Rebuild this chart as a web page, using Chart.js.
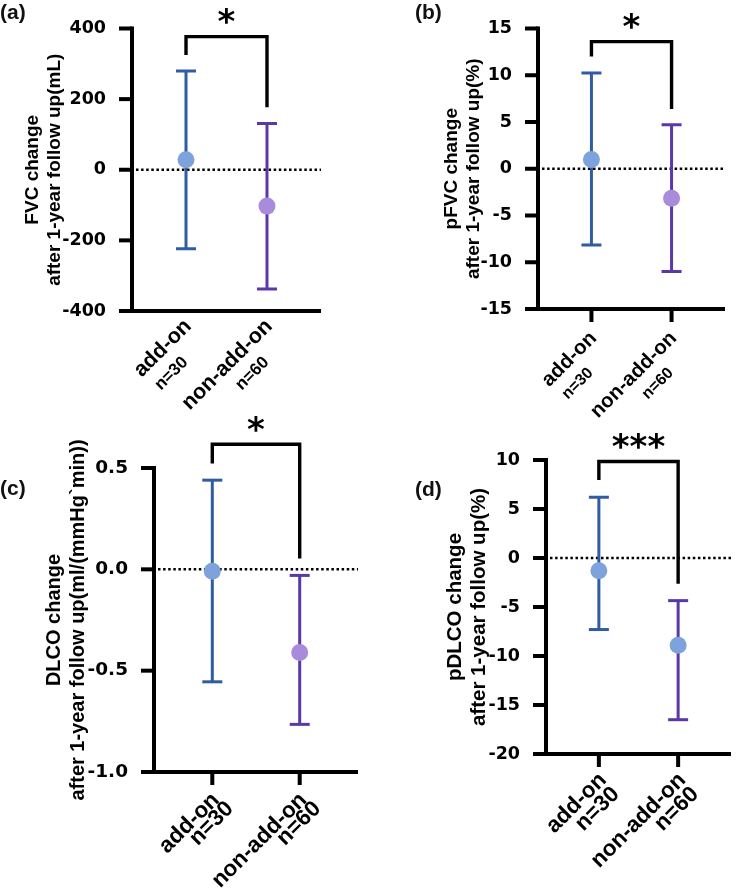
<!DOCTYPE html>
<html><head><meta charset="utf-8">
<script src="https://cdn.jsdelivr.net/npm/chart.js@4.4.1/dist/chart.umd.min.js"></script>
<style>
html,body{margin:0;padding:0;background:#fff;}
#wrap{position:relative;width:744px;height:896px;overflow:hidden;background:#fff;}
canvas{position:absolute;left:0;top:0;}
.lbl{position:absolute;font-family:"Liberation Sans",Arial,sans-serif;font-weight:bold;font-size:21px;line-height:24px;color:#111;}
</style></head><body>
<div id="wrap">
<canvas id="ca" width="744" height="896"></canvas>
<canvas id="cb" width="744" height="896"></canvas>
<canvas id="cc" width="744" height="896"></canvas>
<canvas id="cd" width="744" height="896"></canvas>
<div class="lbl" style="left:0px;top:0px">(a)</div>
<div class="lbl" style="left:415px;top:0px">(b)</div>
<div class="lbl" style="left:0px;top:476px">(c)</div>
<div class="lbl" style="left:415px;top:477px">(d)</div>
</div>
<script>
// ---- data ----
const categories = ['add-on', 'non-add-on'];
const groupSizes = ['n=30', 'n=60'];

const fvcMean  = [28, -103];
const fvcUpper = [280, 131];
const fvcLower = [-224, -338];
const fvcBracket = [325, 377, 177];      // left leg end, top, right leg end
const fvcTicks = [-400, 400, 200];       // min, max, step
const fvcTitle = ['FVC change', 'after 1-year follow up(mL)'];

const pfvcMean  = [1.0, -3.15];
const pfvcUpper = [10.25, 4.7];
const pfvcLower = [-8.15, -11.0];
const pfvcBracket = [12.0, 13.6, 6.4];
const pfvcTicks = [-15, 15, 5];
const pfvcTitle = ['pFVC change', 'after 1-year follow up(%)'];

const dlcoMean  = [-0.01, -0.41];
const dlcoUpper = [0.44, -0.03];
const dlcoLower = [-0.555, -0.765];
const dlcoBracket = [0.522, 0.617, 0.054];
const dlcoTicks = [-1.0, 0.5, 0.5];
const dlcoTitle = ['DLCO change', 'after 1-year follow up(ml/(mmHg`min))'];

const pdlcoMean  = [-1.3, -8.9];
const pdlcoUpper = [6.2, -4.35];
const pdlcoLower = [-7.3, -16.5];
const pdlcoBracket = [7.97, 9.84, -2.62];
const pdlcoTicks = [-20, 10, 5];
const pdlcoTitle = ['pDLCO change', 'after 1-year follow up(%)'];

const sigLabels = ['*', '*', '*', '***'];

// ---- styles ----
const BAR_BLUE = '#2f5ca3';
const BAR_PURPLE = '#5a38a8';
const DOT_BLUE = '#7ea2dc';
const DOT_LAV = '#a98bdb';
const SANS = '"Liberation Sans", Arial, sans-serif';
const TICKFONT = '"DejaVu Sans", sans-serif';
const AXIS_W = 4;

const zeroLine = {
  id: 'zeroLine',
  beforeDatasetsDraw(chart) {
    const y = chart.scales.y.getPixelForValue(0);
    const a = chart.chartArea, ctx = chart.ctx;
    ctx.save();
    ctx.strokeStyle = '#000';
    ctx.lineWidth = 2.5;
    ctx.setLineDash([2.5, 2.6]);
    ctx.beginPath();
    ctx.moveTo(a.left + 4, y);
    ctx.lineTo(a.right, y);
    ctx.stroke();
    ctx.restore();
  }
};

const sigStar = {
  id: 'sigStar',
  afterDatasetsDraw(chart) {
    const o = chart.options.plugins.sigStar;
    const xs = chart.scales.x, ys = chart.scales.y, ctx = chart.ctx;
    const x = (xs.getPixelForValue(0) + xs.getPixelForValue(1)) / 2;
    const y = ys.getPixelForValue(o.top) - 21;
    ctx.save();
    ctx.fillStyle = '#000';
    ctx.font = 'bold 34px "DejaVu Sans", sans-serif';
    ctx.textAlign = 'center';
    ctx.textBaseline = 'alphabetic';
    ctx.fillText(o.text, x, y + 17.5);
    ctx.restore();
  }
};

const xLabels = {
  id: 'xLabels',
  afterDraw(chart) {
    const c = chart.options.plugins.xLabels;
    const xs = chart.scales.x, ctx = chart.ctx;
    const y0 = chart.chartArea.bottom;
    categories.forEach((cat, i) => {
      const x0 = xs.getPixelForValue(i);
      ctx.save();
      ctx.translate(x0, y0);
      ctx.rotate(-Math.PI / 4);
      ctx.fillStyle = '#000';
      ctx.textBaseline = 'middle';
      ctx.textAlign = 'right';
      ctx.font = 'bold ' + c.f1 + 'px ' + SANS;
      ctx.fillText(cat, c.e1, c.v1);
      ctx.font = 'bold ' + c.f2 + 'px ' + SANS;
      ctx.fillText(groupSizes[i], c.e2, c.v2);
      ctx.restore();
    });
  }
};

const axisLines = {
  id: 'axisLines',
  afterDraw(chart) {
    const a = chart.chartArea, ctx = chart.ctx;
    const xs = chart.scales.x, ys = chart.scales.y;
    const showXT = chart.options.plugins.axisLines.xTicks;
    ctx.save();
    ctx.strokeStyle = '#000';
    ctx.fillStyle = '#000';
    ctx.lineCap = 'butt';
    const hw = AXIS_W / 2;
    // axis lines as filled rectangles (crisp)
    ctx.fillRect(a.left - hw, a.top - hw, AXIS_W, a.bottom - a.top + AXIS_W);
    ctx.fillRect(a.left - hw, a.bottom - hw, a.right - a.left + hw, AXIS_W);
    ys.ticks.forEach(t => {
      const y = ys.getPixelForValue(t.value);
      ctx.fillRect(a.left - 13, y - hw, 13, AXIS_W);
    });
    if (showXT) {
      [0, 1].forEach(v => {
        const x = xs.getPixelForValue(v);
        ctx.fillRect(x - hw, a.bottom, AXIS_W, 13);
      });
    }
    ctx.restore();
  }
};

function makePanel(id, p) {
  const W = 744, H = 896, XH = 40;
  const barColors = [BAR_BLUE, BAR_PURPLE];
  const datasets = [];
  p.mean.forEach((m, i) => {
    datasets.push({
      data: [{x: i, y: m}], order: 0,
      pointRadius: 8.5, pointBackgroundColor: p.dotColors[i], pointBorderWidth: 0,
      showLine: false
    });
  });
  p.mean.forEach((m, i) => {
    datasets.push({
      data: [{x: i, y: p.lower[i]}, {x: i, y: p.upper[i]}], order: 1,
      showLine: true, borderColor: barColors[i], borderWidth: 3,
      pointStyle: 'line', pointRadius: 10, pointBorderWidth: 3,
      pointBorderColor: barColors[i], pointBackgroundColor: barColors[i]
    });
  });
  datasets.push({
    data: [{x: 0, y: p.bracket[0]}, {x: 0, y: p.bracket[1]}, {x: 1, y: p.bracket[1]}, {x: 1, y: p.bracket[2]}],
    order: 2, showLine: true, borderColor: '#000', borderWidth: 3.4, pointRadius: 0,
    borderJoinStyle: 'miter', clip: false
  });

  new Chart(document.getElementById(id), {
    type: 'scatter',
    data: { datasets },
    options: {
      responsive: false, animation: false, events: [],
      layout: { padding: { left: p.padLeft, top: p.area.top, right: W - p.area.right, bottom: H - p.area.bottom - XH } },
      plugins: {
        legend: { display: false }, tooltip: { enabled: false },
        sigStar: { text: p.sig, top: p.bracket[1] },
        xLabels: p.xl,
        axisLines: { xTicks: p.xTicks }
      },
      scales: {
        x: {
          type: 'linear', min: -0.667, max: 1.667,
          afterBuildTicks: (s) => { s.ticks = [{value: 0}, {value: 1}]; },
          afterFit: (s) => { s.height = XH; },
          ticks: { display: false },
          grid: { display: false },
          border: { display: false }
        },
        y: {
          type: 'linear', min: p.ticks[0], max: p.ticks[1],
          afterFit: (s) => { s.width = p.area.left - p.padLeft; },
          ticks: {
            stepSize: p.ticks[2], color: '#000', padding: 18,
            font: { family: TICKFONT, weight: 'bold', size: p.tickSize },
            callback: (v) => Number(v).toFixed(p.dec)
          },
          grid: { display: false },
          border: { display: false },
          title: {
            display: true, text: p.title, color: '#000',
            font: { family: SANS, weight: 'bold', size: p.titleSize, lineHeight: p.titleLH + 'px' },
            padding: { top: p.titlePad, bottom: 0 }
          }
        }
      }
    },
    plugins: [zeroLine, sigStar, xLabels, axisLines]
  });
}

makePanel('ca', {
  mean: fvcMean, upper: fvcUpper, lower: fvcLower, bracket: fvcBracket, ticks: fvcTicks, dec: 0,
  title: fvcTitle, sig: sigLabels[0], dotColors: [DOT_BLUE, DOT_LAV],
  area: {left: 132, top: 26, right: 321, bottom: 311}, padLeft: 0,
  titleSize: 19, titleLH: 22, titlePad: 22, tickSize: 17.5, xTicks: false,
  xl: {f1: 21.5, f2: 17, e1: -7, v1: 10, e2: -35, v2: 34}
});
makePanel('cb', {
  mean: pfvcMean, upper: pfvcUpper, lower: pfvcLower, bracket: pfvcBracket, ticks: pfvcTicks, dec: 0,
  title: pfvcTitle, sig: sigLabels[1], dotColors: [DOT_BLUE, DOT_LAV],
  area: {left: 538, top: 26, right: 725, bottom: 309}, padLeft: 420,
  titleSize: 19, titleLH: 22, titlePad: 21, tickSize: 17.5, xTicks: true,
  xl: {f1: 20.5, f2: 16, e1: -17, v1: 20, e2: -44, v2: 43}
});
makePanel('cc', {
  mean: dlcoMean, upper: dlcoUpper, lower: dlcoLower, bracket: dlcoBracket, ticks: dlcoTicks, dec: 1,
  title: dlcoTitle, sig: sigLabels[2], dotColors: [DOT_BLUE, DOT_LAV],
  area: {left: 154, top: 468, right: 358, bottom: 772}, padLeft: 0,
  titleSize: 20, titleLH: 24, titlePad: 42, tickSize: 18.5, xTicks: true,
  xl: {f1: 22.5, f2: 22.5, e1: -15, v1: 20, e2: -11, v2: 36}
});
makePanel('cd', {
  mean: pdlcoMean, upper: pdlcoUpper, lower: pdlcoLower, bracket: pdlcoBracket, ticks: pdlcoTicks, dec: 0,
  title: pdlcoTitle, sig: sigLabels[3], dotColors: [DOT_BLUE, DOT_BLUE],
  area: {left: 546, top: 460, right: 742, bottom: 754}, padLeft: 420,
  titleSize: 20.5, titleLH: 24, titlePad: 23, tickSize: 17.5, xTicks: true,
  xl: {f1: 22.5, f2: 22.5, e1: -13, v1: 19, e2: -14, v2: 38}
});
</script>
</body></html>
